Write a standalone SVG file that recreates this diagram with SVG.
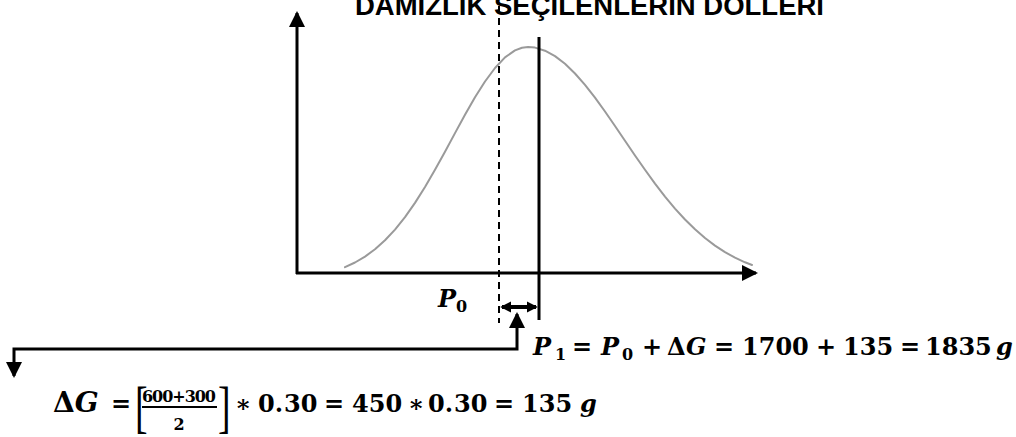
<svg xmlns="http://www.w3.org/2000/svg" width="1016" height="437" viewBox="0 0 1016 437">
<style>
.ax{stroke:#000;stroke-width:3;fill:none}
.curve{stroke:#9a9a9a;stroke-width:2;fill:none;stroke-linejoin:round;stroke-linecap:round}
.title{font-family:"Liberation Sans",Arial,sans-serif;font-weight:bold;font-size:27.5px;fill:#000}
.m{font-family:"DejaVu Serif",serif;font-weight:bold;font-size:24px;fill:#000}
.i{font-style:italic}
.sub{font-size:16px}
.fr{font-family:"DejaVu Serif",serif;font-weight:bold;font-size:16px;fill:#000}
.br{font-family:"Liberation Serif",serif;font-size:58px;fill:#000}
</style>
<defs>
<marker id="ah" markerUnits="userSpaceOnUse" viewBox="0 0 16 16" markerWidth="16" markerHeight="16" refX="14" refY="8" orient="auto-start-reverse"><path d="M0,0 L16,8 L0,16 z" fill="#000"/></marker>
<marker id="ahs" markerUnits="userSpaceOnUse" viewBox="0 0 12 12" markerWidth="11" markerHeight="12" refX="10" refY="6" orient="auto-start-reverse"><path d="M0,0 L12,6 L0,12 z" fill="#000"/></marker>
</defs>
<g id="title"><text class="title" x="355" y="15" textLength="469" lengthAdjust="spacingAndGlyphs">DAMIZLIK SEÇİLENLERİN DÖLLERİ</text></g>
<g id="axes">
<line class="ax" x1="297" y1="274" x2="297" y2="13" marker-end="url(#ah)"/>
<line class="ax" x1="296" y1="273" x2="756" y2="273" marker-end="url(#ah)"/>
</g>
<g id="curve"><path class="curve" d="M345,267.2 L355,262.5 365,256.6 375,249.3 385,240.3 395,229.6 405,217.1 415,202.9 425,187 435,169.8 445,151.7 455,133.1 465,114.8 475,97.3 485,81.5 495,68 505,57.4 515,50.4 522,47.7 528,47 535,47.6 545,50.7 555,56.1 565,63.8 575,73.5 585,84.9 595,97.7 605,111.5 615,126 625,140.7 635,155.5 645,169.8 655,183.6 665,196.6 675,208.6 685,219.5 695,229.3 705,238 715,245.6 725,252.1 735,257.7 745,262.3 752,265"/></g>
<g id="p0-line"><line x1="499" y1="6" x2="499" y2="323" stroke="#000" stroke-width="2" stroke-dasharray="7,5"/></g>
<g id="p1-line"><line x1="539" y1="37" x2="539" y2="320" stroke="#000" stroke-width="3"/></g>
<g id="p0-label"><text class="m i" x="438" y="307" font-size="26">P<tspan class="sub" font-style="normal" dy="5">0</tspan></text></g>
<g id="connectors">
<line x1="502" y1="307" x2="536" y2="307" stroke="#000" stroke-width="4" marker-start="url(#ahs)" marker-end="url(#ahs)"/>
<path d="M14,376 V349 H517 V314" class="ax" marker-start="url(#ah)" marker-end="url(#ah)"/>
</g>
<g id="eq1"><text class="m" y="355"><tspan class="i" x="533">P</tspan><tspan class="sub" x="555" dy="5">1</tspan><tspan x="572" dy="-5">=</tspan><tspan class="i" x="601">P</tspan><tspan class="sub" x="622" dy="5">0</tspan><tspan x="642" dy="-5">+</tspan><tspan x="667">Δ</tspan><tspan class="i" x="686">G</tspan><tspan x="714">=</tspan><tspan x="742">1700</tspan><tspan x="816">+</tspan><tspan x="843">135</tspan><tspan x="900">=</tspan><tspan x="925">1835</tspan><tspan class="i" x="996">g</tspan></text></g>
<g id="eq2">
<text class="m" y="412"><tspan x="53" font-size="28">Δ<tspan class="i">G</tspan></tspan><tspan x="111">=</tspan></text>
<text class="br" transform="translate(135,426) scale(0.65,1)">[</text>
<text class="fr" x="179" y="402" text-anchor="middle" textLength="74">600+300</text>
<line x1="142" y1="407" x2="217" y2="407" stroke="#000" stroke-width="2"/>
<text class="fr" x="179" y="430" text-anchor="middle" font-size="17">2</text>
<text class="br" transform="translate(218,426) scale(0.65,1)">]</text>
<text class="m" y="412"><tspan x="235">∗</tspan><tspan x="258">0.</tspan><tspan x="284">30</tspan><tspan x="324">=</tspan><tspan x="352">450</tspan><tspan x="408">∗</tspan><tspan x="428">0.</tspan><tspan x="454">30</tspan><tspan x="494">=</tspan><tspan x="522">135</tspan><tspan class="i" x="580">g</tspan></text>
</g>
</svg>
